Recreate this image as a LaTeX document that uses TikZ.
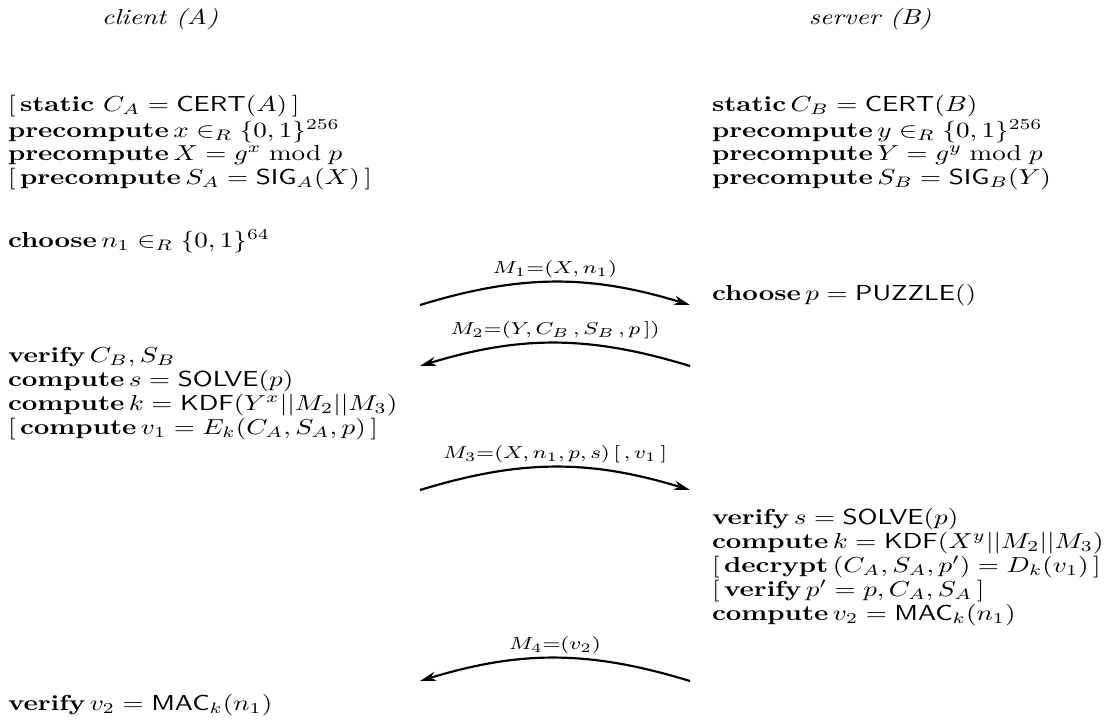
\documentclass[tikz,border=0pt]{standalone}
\usepackage{amsmath}
\usetikzlibrary{arrows.meta}
\newcommand\sqz[1]{\scalebox{1}[0.8]{#1}}
\tikzset{
  txt/.style={anchor=base west, inner sep=0pt, outer sep=0pt},
  hdr/.style={anchor=base, inner sep=0pt},
  msg/.style={line width=0.8pt, -{Stealth[length=6pt,width=3.4pt]}},
  lbl/.style={font=\footnotesize, inner sep=1pt, above}
}
\begin{document}
\begin{tikzpicture}[x=0.369pt,y=-0.369pt]
\useasboundingbox (0,0) rectangle (1107,721);
% headers
\node[hdr] (ha) at (160,24) {\sqz{\itshape client (A)}};
\node[hdr] (hb) at (870,24) {\sqz{\itshape server (B)}};
% client column
\node[txt] (a1) at (8,111) {\sqz{[\,\textbf{static} $C_A = \mathsf{CERT}(A)$\,]}};
\node[txt] (a2) at (8,137) {\sqz{\textbf{precompute}\,$x \in_R \{0,1\}^{256}$}};
\node[txt] (a3) at (8,160) {\sqz{\textbf{precompute}\,$X = g^x \bmod p$}};
\node[txt] (a4) at (8,184) {\sqz{[\,\textbf{precompute}\,$S_A = \mathsf{SIG}_A(X)$\,]}};
\node[txt] (a5) at (8,247) {\sqz{\textbf{choose}\,$n_1 \in_R \{0,1\}^{64}$}};
\node[txt] (a6) at (8,362) {\sqz{\textbf{verify}\,$C_B, S_B$}};
\node[txt] (a7) at (8,386) {\sqz{\textbf{compute}\,$s = \mathsf{SOLVE}(p)$}};
\node[txt] (a8) at (8,410) {\sqz{\textbf{compute}\,$k = \mathsf{KDF}(Y^x||M_2||M_3)$}};
\node[txt] (a9) at (8,434) {\sqz{[\,\textbf{compute}\,$v_1 = E_k(C_A,S_A,p)$\,]}};
\node[txt] (a10) at (8,710) {\sqz{\textbf{verify}\,$v_2 = \mathsf{MAC}_k(n_1)$}};
% server column
\node[txt] (b1) at (712,111) {\sqz{\textbf{static}\,$C_B = \mathsf{CERT}(B)$}};
\node[txt] (b2) at (712,137) {\sqz{\textbf{precompute}\,$y \in_R \{0,1\}^{256}$}};
\node[txt] (b3) at (712,160) {\sqz{\textbf{precompute}\,$Y = g^y \bmod p$}};
\node[txt] (b4) at (712,184) {\sqz{\textbf{precompute}\,$S_B = \mathsf{SIG}_B(Y)$}};
\node[txt] (b5) at (712,300) {\sqz{\textbf{choose}\,$p = \mathsf{PUZZLE}()$}};
\node[txt] (b6) at (712,524) {\sqz{\textbf{verify}\,$s = \mathsf{SOLVE}(p)$}};
\node[txt] (b7) at (712,548) {\sqz{\textbf{compute}\,$k = \mathsf{KDF}(X^y||M_2||M_3)$}};
\node[txt] (b8) at (712,572) {\sqz{[\,\textbf{decrypt}\,$(C_A,S_A,p') = D_k(v_1)$\,]}};
\node[txt] (b9) at (712,596) {\sqz{[\,\textbf{verify}\,$p' = p, C_A, S_A$\,]}};
\node[txt] (b10) at (712,620) {\sqz{\textbf{compute}\,$v_2 = \mathsf{MAC}_k(n_1)$}};
% message end points
\coordinate (m1a) at (420,305); \coordinate (m1b) at (690,305);
\coordinate (m2a) at (420,366); \coordinate (m2b) at (690,366);
\coordinate (m3a) at (420,490); \coordinate (m3b) at (690,490);
\coordinate (m4a) at (420,681); \coordinate (m4b) at (690,681);
% messages
\draw[msg] (m1a) to[bend left=17] node[lbl] {\sqz{$M_1{=}(X, n_1)$}} (m1b);
\draw[msg] (m2b) to[bend right=17] node[lbl] {\sqz{$M_2{=}(Y, C_B\,, S_B\,, p\,])$}} (m2a);
\draw[msg] (m3a) to[bend left=17] node[lbl] {\sqz{$M_3{=}(X, n_1, p, s)\,[\,, v_1\,]$}} (m3b);
\draw[msg] (m4b) to[bend right=17] node[lbl] {\sqz{$M_4{=}(v_2)$}} (m4a);
\end{tikzpicture}
\end{document}
